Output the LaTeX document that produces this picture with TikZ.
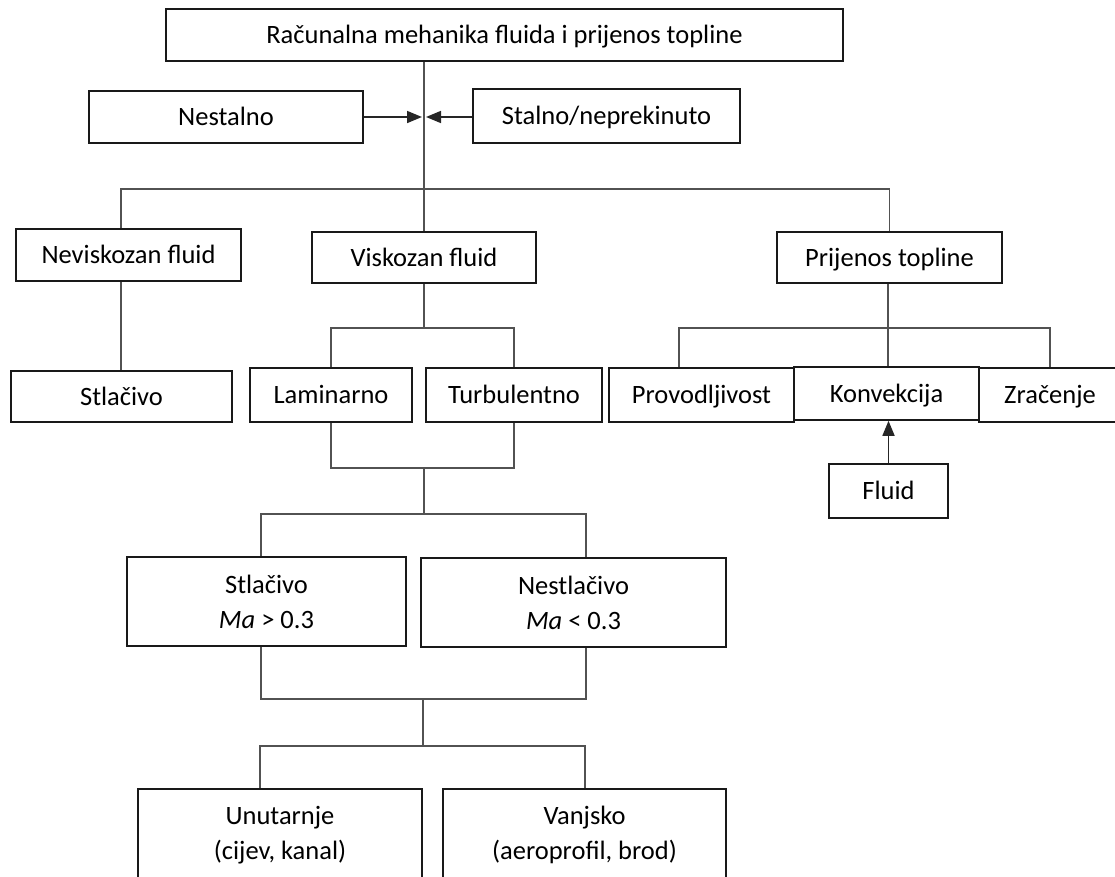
\documentclass[tikz,border=0pt]{standalone}
\usepackage{fontspec}
\setmainfont{Carlito}
\usetikzlibrary{arrows.meta}
\begin{document}
\begin{tikzpicture}[x=1pt,y=-1pt,
  box/.style={draw=black!90,line width=1.6pt,inner sep=0pt,align=center,font=\fontsize{26.5}{35}\selectfont},
  one/.style={box,text height=20pt,text depth=3pt},
  conn/.style={draw=black!68,line width=1.6pt},
  arr/.style={conn,-{Triangle[length=15pt,width=12pt]},draw=black!85,fill=black!85}]
\useasboundingbox (0,0) rectangle (1115,876);
% nodes
\node[one,minimum width=677pt,minimum height=52pt] (top) at (504.5,35) {Računalna mehanika fluida i prijenos topline};
\node[one,minimum width=274pt,minimum height=52pt] (nest) at (226,117) {Nestalno};
\node[one,minimum width=267pt,minimum height=54pt] (stal) at (606.5,116) {Stalno/neprekinuto};
\node[one,minimum width=225pt,minimum height=52pt] (nevisk) at (128.5,255) {Neviskozan fluid};
\node[one,minimum width=224pt,minimum height=51pt] (visk) at (424,257.5) {Viskozan fluid};
\node[one,minimum width=225pt,minimum height=51pt] (prij) at (889.5,257.5) {Prijenos topline};
\node[one,minimum width=221pt,minimum height=51pt] (stl1) at (121.5,396.5) {Stlačivo};
\node[one,minimum width=162pt,minimum height=54pt] (lam) at (331,395) {Laminarno};
\node[one,minimum width=176pt,minimum height=54pt] (turb) at (514,395) {Turbulentno};
\node[one,minimum width=185pt,minimum height=54pt] (prov) at (701.5,395) {Provodljivost};
\node[one,minimum width=185pt,minimum height=53pt] (konv) at (886.5,393.5) {Konvekcija};
\node[one,minimum width=142pt,minimum height=54pt] (zrac) at (1050,395) {Zračenje};
\node[one,minimum width=119pt,minimum height=54pt] (fluid) at (888.5,491) {Fluid};
\node[box,minimum width=279pt,minimum height=89pt] (stl2) at (266.5,601.5) {Stlačivo\\\textit{Ma} > 0.3};
\node[box,minimum width=305pt,minimum height=89pt] (nstl) at (573.5,602.5) {Nestlačivo\\\textit{Ma} < 0.3};
\node[box,minimum width=284pt,minimum height=92pt] (unut) at (280,835) {Unutarnje\\(cijev, kanal)};
\node[box,minimum width=283pt,minimum height=92pt] (vanj) at (584.5,835) {Vanjsko\\(aeroprofil, brod)};
% junction coordinates
\coordinate (j1) at (424,189);
\coordinate (jL) at (121,189);
\coordinate (j2) at (424,328);
\coordinate (j3) at (424,468);
\coordinate (j4) at (424,514);
\coordinate (j4l) at (261,514);
\coordinate (j4r) at (586,514);
\coordinate (j5) at (423,699);
\coordinate (j5l) at (261,699);
\coordinate (j5r) at (586,699);
\coordinate (j6) at (423,746);
\coordinate (j6l) at (260,746);
\coordinate (j6r) at (585,746);
\coordinate (p1) at (888,328);
\coordinate (p1l) at (679,328);
\coordinate (p1r) at (1050,328);
% connectors
\draw[conn] (top.south -| visk.north) -- (visk.north);
\draw[arr,shorten >=2pt] (nest.east) -- (nest.east -| visk.north);
\draw[arr,shorten >=2pt] (stal.west |- nest.east) -- (nest.east -| visk.north);
\draw[conn] (nevisk.north -| jL) -- (jL) -- (j1) -| (prij.north);
\draw[conn] (nevisk.south -| jL) -- (stl1.north -| jL);
\draw[conn] (visk.south) -- (j2);
\draw[conn] (lam.north) |- (j2) -| (turb.north);
\draw[conn] (lam.south) |- (j3) -| (turb.south);
\draw[conn] (j3) -- (j4);
\draw[conn] (stl2.north -| j4l) -- (j4l) -- (j4r) -- (nstl.north -| j4r);
\draw[conn] (stl2.south -| j5l) -- (j5l) -- (j5r) -- (nstl.south -| j5r);
\draw[conn] (j5) -- (j6);
\draw[conn] (unut.north -| j6l) -- (j6l) -- (j6r) -- (vanj.north -| j6r);
\draw[conn] (prij.south -| p1) -- (p1);
\draw[conn] (prov.north -| p1l) -- (p1l) -- (p1r) -- (zrac.north -| p1r);
\draw[conn] (p1) -- (konv.north -| p1);
\draw[arr] (fluid.north) -- (konv.south -| fluid.north);
\end{tikzpicture}
\end{document}
